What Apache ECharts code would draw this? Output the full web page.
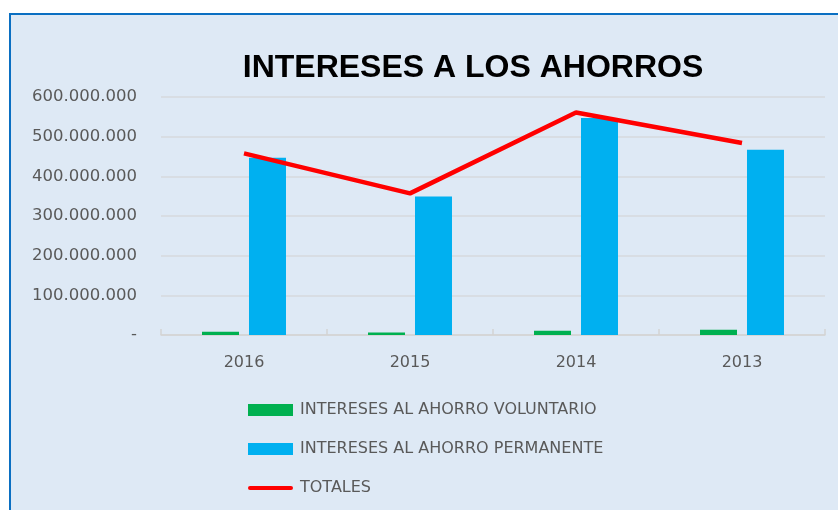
<!DOCTYPE html>
<html>
<head>
    <meta charset="utf-8">
    <title>Intereses a los ahorros</title>
    <script src="https://cdn.jsdelivr.net/npm/echarts@6/dist/echarts.min.js"></script>
    <style>
        html, body { margin: 0; padding: 0; background: #fff; }
    </style>
</head>
<body>
<div id="main" style="width: 838px;height:510px;"></div>
<script type="text/javascript">
// datos
var years = ['2016', '2015', '2014', '2013'];
var voluntario = [8500000, 6000000, 11000000, 13500000];
var permanente = [447000000, 349000000, 547000000, 467000000];
var totales = [458000000, 357000000, 561000000, 484000000];
var yTicks = [0, 100000000, 200000000, 300000000, 400000000, 500000000, 600000000];

var myChart = echarts.init(document.getElementById('main'));

function fmt(v) {
    if (v === 0) return '-';
    return String(v).replace(/\B(?=(\d{3})+(?!\d))/g, '.');
}

myChart.setOption({
    backgroundColor: '#fff',
    animation: false,
    textStyle: { fontFamily: 'DejaVu Sans' },
    graphic: [
        {   // marco del grafico
            type: 'rect',
            z: -10,
            shape: { x: 10, y: 14, width: 840, height: 510 },
            style: { fill: '#DEE9F5', stroke: '#0A6FC2', lineWidth: 2 }
        }
    ],
    title: {
        text: 'INTERESES A LOS AHORROS',
        left: 468,
        textAlign: 'center',
        top: 47,
        textStyle: {
            fontFamily: 'Liberation Sans',
            fontWeight: 'bold',
            fontSize: 32,
            color: '#000'
        }
    },
    legend: {
        orient: 'vertical',
        left: 248,
        top: 402,
        height: 100,
        padding: 0,
        itemWidth: 45,
        itemHeight: 12,
        itemGap: 23,
        textStyle: { fontSize: 16, color: '#595959', fontFamily: 'DejaVu Sans', padding: [0, 0, 0, 2] },
        data: [
            { name: 'INTERESES AL AHORRO VOLUNTARIO', icon: 'rect' },
            { name: 'INTERESES AL AHORRO PERMANENTE', icon: 'rect' },
            { name: 'TOTALES', icon: 'path://M2,0 L43,0 A2,2 0 0 1 43,4 L2,4 A2,2 0 0 1 2,0 Z' }
        ]
    },
    grid: { left: 161, right: 13, top: 97, bottom: 175 },
    xAxis: {
        type: 'category',
        data: years,
        axisLine: { lineStyle: { color: '#D4D4D4', width: 1.5 } },
        axisTick: { show: true, inside: true, length: 6, lineStyle: { color: '#D4D4D4', width: 1.5 } },
        axisLabel: { fontSize: 16, color: '#595959', margin: 20 }
    },
    yAxis: {
        type: 'value',
        min: yTicks[0],
        max: yTicks[yTicks.length - 1],
        interval: 100000000,
        axisLine: { show: false },
        axisTick: { show: false },
        splitLine: { lineStyle: { color: '#D6D9DD', width: 1.5 } },
        axisLabel: { fontSize: 16.5, color: '#595959', margin: 24, formatter: fmt }
    },
    series: [
        {
            name: 'INTERESES AL AHORRO VOLUNTARIO',
            type: 'bar',
            data: voluntario,
            barWidth: 37,
            barGap: '27%',
            itemStyle: { color: '#00B050' }
        },
        {
            name: 'INTERESES AL AHORRO PERMANENTE',
            type: 'bar',
            data: permanente,
            barWidth: 37,
            itemStyle: { color: '#00B0F0' }
        },
        {
            name: 'TOTALES',
            type: 'line',
            data: totales,
            symbol: 'none',
            lineStyle: { color: '#FF0000', width: 4.5 },
            itemStyle: { color: '#FF0000' }
        }
    ]
});
</script>
</body>
</html>
